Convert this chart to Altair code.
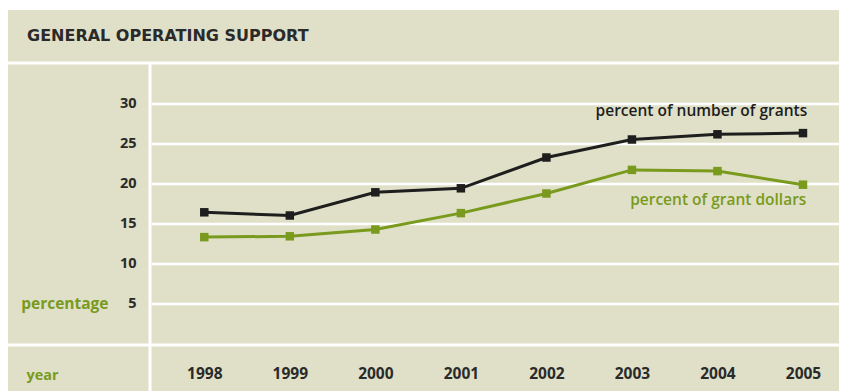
import altair as alt
import pandas as pd

# ---- data ----
years = [1998, 1999, 2000, 2001, 2002, 2003, 2004, 2005]
pct_number_of_grants = [16.4, 16.0, 18.9, 19.4, 23.25, 25.5, 26.15, 26.3]
pct_grant_dollars = [13.3, 13.4, 14.25, 16.3, 18.75, 21.7, 21.55, 19.85]
series_names = ["percent of number of grants", "percent of grant dollars"]
y_ticks = [5, 10, 15, 20, 25, 30]
title_text = "GENERAL OPERATING SUPPORT"
y_title = "percentage"
x_title = "year"
# annotation anchors (data space) for the series labels
label_years = [2005.05, 2005.04]
label_values = [29.06, 17.94]

# ---- styles ----
BG = "#dfe0c7"
BLACK = "#1e1e1e"
GREEN = "#7a9a1e"
TEXT = "#2a2a2a"
FONT = "Open Sans"

rows = []
for yr, a, b in zip(years, pct_number_of_grants, pct_grant_dollars):
    rows.append({"year": yr, "series": series_names[0], "value": a})
    rows.append({"year": yr, "series": series_names[1], "value": b})
df = pd.DataFrame(rows)

labels_df = pd.DataFrame({"year": label_years, "value": label_values, "series": series_names})

W, H = 688, 280
x_scale = alt.Scale(domain=[1997.377, 2005.421], nice=False, zero=False)
y_scale = alt.Scale(domain=[0, 35], nice=False)
color_scale = alt.Scale(domain=series_names, range=[BLACK, GREEN])

x_enc = alt.X(
    "year:Q", scale=x_scale,
    axis=alt.Axis(values=years, format="d", grid=False, domain=False, ticks=False,
                  labelPadding=23, labelFontSize=15.5, labelFont=FONT, labelFontWeight="bold",
                  labelColor=TEXT, title=x_title, titleAngle=0, titleAlign="left",
                  titleX=-125, titleY=31.5, titleBaseline="middle", titleColor=GREEN,
                  titleFont=FONT, titleFontSize=14.5, titleFontWeight="bold"),
)
y_enc = alt.Y(
    "value:Q", scale=y_scale,
    axis=alt.Axis(values=y_ticks, grid=True, gridColor="white", gridWidth=2.5,
                  domain=False, ticks=False, labelPadding=15, labelFontSize=14.5,
                  labelFont=FONT, labelFontWeight="bold", labelColor=TEXT,
                  title=y_title, titleAngle=0, titleAlign="right", titleX=-43,
                  titleY=240, titleBaseline="middle", titleColor=GREEN, titleFont=FONT,
                  titleFontSize=15.5, titleFontWeight="bold"),
)

base = alt.Chart(df).encode(
    x=x_enc, y=y_enc,
    color=alt.Color("series:N", scale=color_scale, legend=None),
)
lines = base.mark_line(strokeWidth=3)
points = base.mark_square(size=72, opacity=1)

labels = alt.Chart(labels_df).mark_text(
    align="right", baseline="middle", font=FONT, fontSize=15.5, fontWeight=600
).encode(
    x=alt.X("year:Q", scale=x_scale),
    y=alt.Y("value:Q", scale=y_scale),
    text="series:N",
    color=alt.Color("series:N", scale=color_scale, legend=None),
)

one = pd.DataFrame({"k": [0]})
deco = alt.Chart(one)
sep_top = deco.mark_rule(color="white", strokeWidth=3).encode(
    x=alt.value(-143), x2=alt.value(W), y=alt.value(-0.5))
sep_bottom = deco.mark_rule(color="white", strokeWidth=3).encode(
    x=alt.value(-143), x2=alt.value(W), y=alt.value(281.5))
sep_vert = deco.mark_rule(color="white", strokeWidth=3).encode(
    x=alt.value(-1), y=alt.value(-0.5), y2=alt.value(330))
top_strip = deco.mark_rule(color="white", strokeWidth=2).encode(
    x=alt.value(-143), x2=alt.value(W), y=alt.value(-54.5))
title = deco.mark_text(
    align="left", baseline="middle", font="DejaVu Sans", fontSize=16, fontWeight="bold",
    color=TEXT
).encode(x=alt.value(-124), y=alt.value(-27.5), text=alt.value(title_text))

chart = alt.layer(
    sep_top, sep_bottom, sep_vert, top_strip, title, lines, points, labels
).properties(
    width=W, height=H,
    autosize=alt.AutoSizeParams(type="none"),
    padding={"left": 143, "top": 55.5, "right": 0, "bottom": 47.5},
    background=BG,
).configure_view(stroke=None)

chart.save("out.html", embed_options={"renderer": "svg", "actions": False})
